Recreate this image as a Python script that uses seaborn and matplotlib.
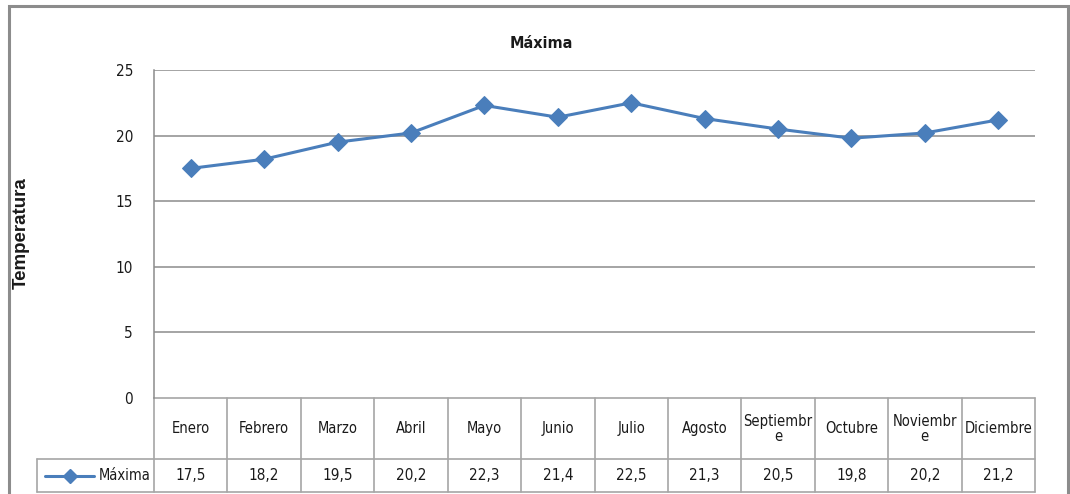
import numpy as np
import pandas as pd
import matplotlib
matplotlib.use("Agg")
import matplotlib.pyplot as plt
import matplotlib.transforms as mtransforms
from matplotlib.patches import Rectangle
import seaborn as sns

# Data
meses = ['Enero', 'Febrero', 'Marzo', 'Abril', 'Mayo', 'Junio', 'Julio',
         'Agosto', 'Septiembre', 'Octubre', 'Noviembre', 'Diciembre']
encabezados = ['Enero', 'Febrero', 'Marzo', 'Abril', 'Mayo', 'Junio', 'Julio',
               'Agosto', 'Septiembr\ne', 'Octubre', 'Noviembr\ne', 'Diciembre']
maxima = [17.5, 18.2, 19.5, 20.2, 22.3, 21.4, 22.5, 21.3, 20.5, 19.8, 20.2, 21.2]
y_ticks = [0, 5, 10, 15, 20, 25]
serie = 'Máxima'
titulo = 'Máxima'
y_label = 'Temperatura'

LINE_COLOR = '#4A7EBB'
GRID_COLOR = '#8C8C8C'
TEXT_COLOR = '#1a1a1a'

sns.set_style("white")
plt.rcParams['font.family'] = ['DejaVu Sans']
plt.rcParams['font.stretch'] = 'condensed'

W, H = 1070, 494
fig = plt.figure(figsize=(W / 100, H / 100), dpi=100)

# plot area in pixels
px_left, px_right, px_top, px_bottom = 154, 1035, 70, 398
ax = fig.add_axes([px_left / W, (H - px_bottom) / H,
                   (px_right - px_left) / W, (px_bottom - px_top) / H])

df = pd.DataFrame({'pos': np.arange(len(meses)), 'mes': meses, 'valor': maxima})
sns.lineplot(data=df, x='pos', y='valor', ax=ax, color=LINE_COLOR, linewidth=2.2,
             marker='D', markersize=9, markeredgecolor=LINE_COLOR, sort=False)

ax.set_xlim(-0.5, len(meses) - 0.5)
ax.set_ylim(0, 25)
ax.set_yticks(y_ticks)
ax.set_yticklabels([str(t) for t in y_ticks], fontsize=11, color=TEXT_COLOR)
ax.tick_params(axis='y', length=0, pad=15)
ax.set_xticks([])
ax.set_xlabel('')
ax.set_ylabel('')
for t in y_ticks[1:]:
    ax.axhline(t, color=GRID_COLOR, lw=1.1, zorder=0)
for s in ['top', 'right', 'bottom']:
    ax.spines[s].set_visible(False)
ax.spines['left'].set_color(GRID_COLOR)
ax.spines['left'].set_linewidth(1.1)

# data table below the axes (x in data coords, y in axes coords)
trans = mtransforms.blended_transform_factory(ax.transData, ax.transAxes)
ax_h = px_bottom - px_top
y_head_bot = -(459 - px_bottom) / ax_h
y_row_bot = -(492 - px_bottom) / ax_h
cell_px = (px_right - px_left) / len(meses)
x_label_left = -0.5 - (px_left - 37) / cell_px
n = len(meses)

line_kw = dict(color='#A6A6A6', lw=1.2, transform=trans, clip_on=False)
ax.plot([-0.5, n - 0.5], [0, 0], **line_kw)
ax.plot([x_label_left, n - 0.5], [y_head_bot, y_head_bot], **line_kw)
ax.plot([x_label_left, n - 0.5], [y_row_bot, y_row_bot], **line_kw)
for i in range(n + 1):
    ax.plot([i - 0.5, i - 0.5], [0, y_row_bot], **line_kw)
ax.plot([x_label_left, x_label_left], [y_head_bot, y_row_bot], **line_kw)

for i, (h, v) in enumerate(zip(encabezados, maxima)):
    ax.text(i, y_head_bot / 2, h, transform=trans, ha='center', va='center',
            fontsize=10.5, color=TEXT_COLOR, linespacing=1.0)
    ax.text(i, (y_head_bot + y_row_bot) / 2, f"{v:.1f}".replace('.', ','),
            transform=trans, ha='center', va='center', fontsize=11, color=TEXT_COLOR)

# legend key in the row label cell
y_mid = (y_head_bot + y_row_bot) / 2
k0 = x_label_left + 0.11
k1 = x_label_left + 0.78
ax.plot([k0, k1], [y_mid, y_mid], color=LINE_COLOR, lw=2.2, transform=trans, clip_on=False)
ax.plot([(k0 + k1) / 2], [y_mid], marker='D', markersize=7, color=LINE_COLOR,
        transform=trans, clip_on=False)
ax.text(-0.54, y_mid, serie, transform=trans, ha='right', va='center',
        fontsize=10.5, color=TEXT_COLOR)

# titles
fig.text(541 / W, 1 - 43 / H, titulo, ha='center', va='center', fontsize=11.5,
         fontweight='bold', color=TEXT_COLOR)
fig.text(21 / W, 1 - 233 / H, y_label, ha='center', va='center', rotation=90,
         fontsize=13.5, fontweight='bold', color=TEXT_COLOR,
         family=['Liberation Sans', 'DejaVu Sans'], stretch='normal')

# outer chart frame
fig.patches.append(Rectangle((9 / W, -0.05), (1068 - 9) / W, 1.05 - 6 / H,
                             transform=fig.transFigure, fill=False,
                             edgecolor='#8C8C8C', lw=2.2))

fig.savefig('out.png', dpi=100)
